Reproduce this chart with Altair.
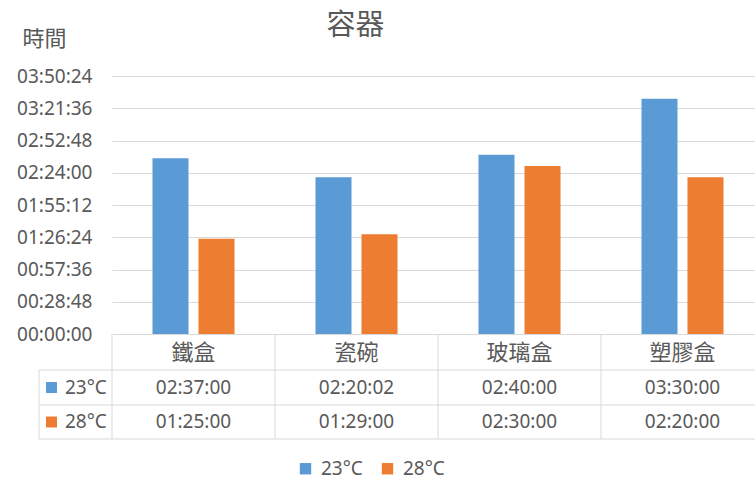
import altair as alt
import pandas as pd

# ---- data ----
categories = ["鐵盒", "瓷碗", "玻璃盒", "塑膠盒"]
series = ["23°C", "28°C"]
times_23 = ["02:37:00", "02:20:02", "02:40:00", "03:30:00"]
times_28 = ["01:25:00", "01:29:00", "02:30:00", "02:20:00"]
y_tick_labels = ["00:00:00", "00:28:48", "00:57:36", "01:26:24", "01:55:12",
                 "02:24:00", "02:52:48", "03:21:36", "03:50:24"]
colors = ["#5B9BD5", "#ED7D31"]


def to_sec(s):
    h, m, sec = (int(p) for p in s.split(":"))
    return h * 3600 + m * 60 + sec


rows = []
for ser, vals in zip(series, [times_23, times_28]):
    for c, v in zip(categories, vals):
        rows.append({"category": c, "series": ser, "label": v, "seconds": to_sec(v)})
df = pd.DataFrame(rows)
tick_secs = [to_sec(t) for t in y_tick_labels]
cat_df = pd.DataFrame({"category": categories})

# ---- layout ----
W, H = 643, 258
GRID = "#D9D9D9"
TXT = "#595959"
NUM_FONT = "Noto Sans"
CJK_FONT = "Noto Sans CJK TC"

x_scale = alt.Scale(domain=categories, range=[0, 652], paddingInner=0, paddingOuter=0)
x_enc = alt.X("category:N", sort=categories, scale=x_scale,
              axis=alt.Axis(title=None, labelFont=CJK_FONT, labelFontSize=22,
                            labelColor=TXT, labelAngle=0, labelBaseline="middle",
                            labelPadding=18, ticks=False, tickSize=0,
                            domainColor=GRID, domainWidth=1, grid=False))
y_enc = alt.Y("seconds:Q",
              scale=alt.Scale(domain=[0, tick_secs[-1]], nice=False, zero=True),
              axis=alt.Axis(values=tick_secs,
                            labelExpr="utcFormat(datum.value * 1000, '%H:%M:%S')",
                            labelFont=NUM_FONT, labelFontSize=19, labelColor=TXT,
                            labelPadding=20, ticks=False, domain=False,
                            grid=True, gridColor=GRID, gridWidth=1,
                            title="時間", titleAngle=0, titleX=-90, titleY=-38,
                            titleAlign="left", titleBaseline="middle",
                            titleFont=CJK_FONT, titleFontSize=22,
                            titleFontWeight="normal", titleColor=TXT))

bars = alt.Chart(df).mark_bar().encode(
    x=x_enc,
    xOffset=alt.XOffset("series:N", sort=series,
                        scale=alt.Scale(paddingInner=0.217, paddingOuter=0.88)),
    y=y_enc,
    color=alt.Color("series:N", sort=series,
                    scale=alt.Scale(domain=series, range=colors),
                    legend=alt.Legend(title=None, orient="none", legendX=184,
                                      legendY=383, direction="horizontal",
                                      symbolType="square", symbolSize=130,
                                      symbolStrokeWidth=0, labelFont=NUM_FONT,
                                      labelFontSize=19, labelColor=TXT,
                                      columnPadding=15, labelOffset=6)),
)

one = alt.Data(values=[{"k": 1}])

# vertical table lines at category boundaries
v_lines = alt.Chart(cat_df).mark_rule(color=GRID, strokeWidth=1).encode(
    x=alt.X("category:N", sort=categories, bandPosition=0),
    y=alt.value(H), y2=alt.value(H + 105),
)
left_line = alt.Chart(one).mark_rule(color=GRID, strokeWidth=1).encode(
    x=alt.value(-73), y=alt.value(294), y2=alt.value(H + 105))
h_lines = [
    alt.Chart(one).mark_rule(color=GRID, strokeWidth=1).encode(
        x=alt.value(-73), x2=alt.value(W), y=alt.value(yy))
    for yy in (294, 329, 363)
]

row_layers = []
for ser, col, yc in zip(series, colors, (311.5, 346)):
    sub = df[df["series"] == ser]
    row_layers.append(
        alt.Chart(sub).mark_text(font=NUM_FONT, fontSize=19, color=TXT,
                                 baseline="middle", align="center").encode(
            x=alt.X("category:N", sort=categories), y=alt.value(yc), text="label:N"))
    lab = pd.DataFrame({"series": [ser]})
    row_layers.append(
        alt.Chart(lab).mark_square(size=120, color=col, opacity=1).encode(
            x=alt.value(-60.5), y=alt.value(yc)))
    row_layers.append(
        alt.Chart(lab).mark_text(font=NUM_FONT, fontSize=19, color=TXT,
                                 baseline="middle", align="left").encode(
            x=alt.value(-47), y=alt.value(yc), text="series:N"))

chart = alt.layer(bars, v_lines, left_line, *h_lines, *row_layers).properties(
    width=W, height=H,
    autosize=alt.AutoSizeParams(type="none"),
    padding={"left": 112, "top": 76, "right": 0, "bottom": 147},
    background="white",
    title=alt.TitleParams("容器", font=CJK_FONT, fontSize=29, fontWeight="normal",
                          color=TXT, anchor="middle", dx=-78, offset=-43,
                          baseline="bottom"),
).configure_view(stroke=None)

chart.save("out.html", embed_options={"renderer": "svg", "actions": False})
